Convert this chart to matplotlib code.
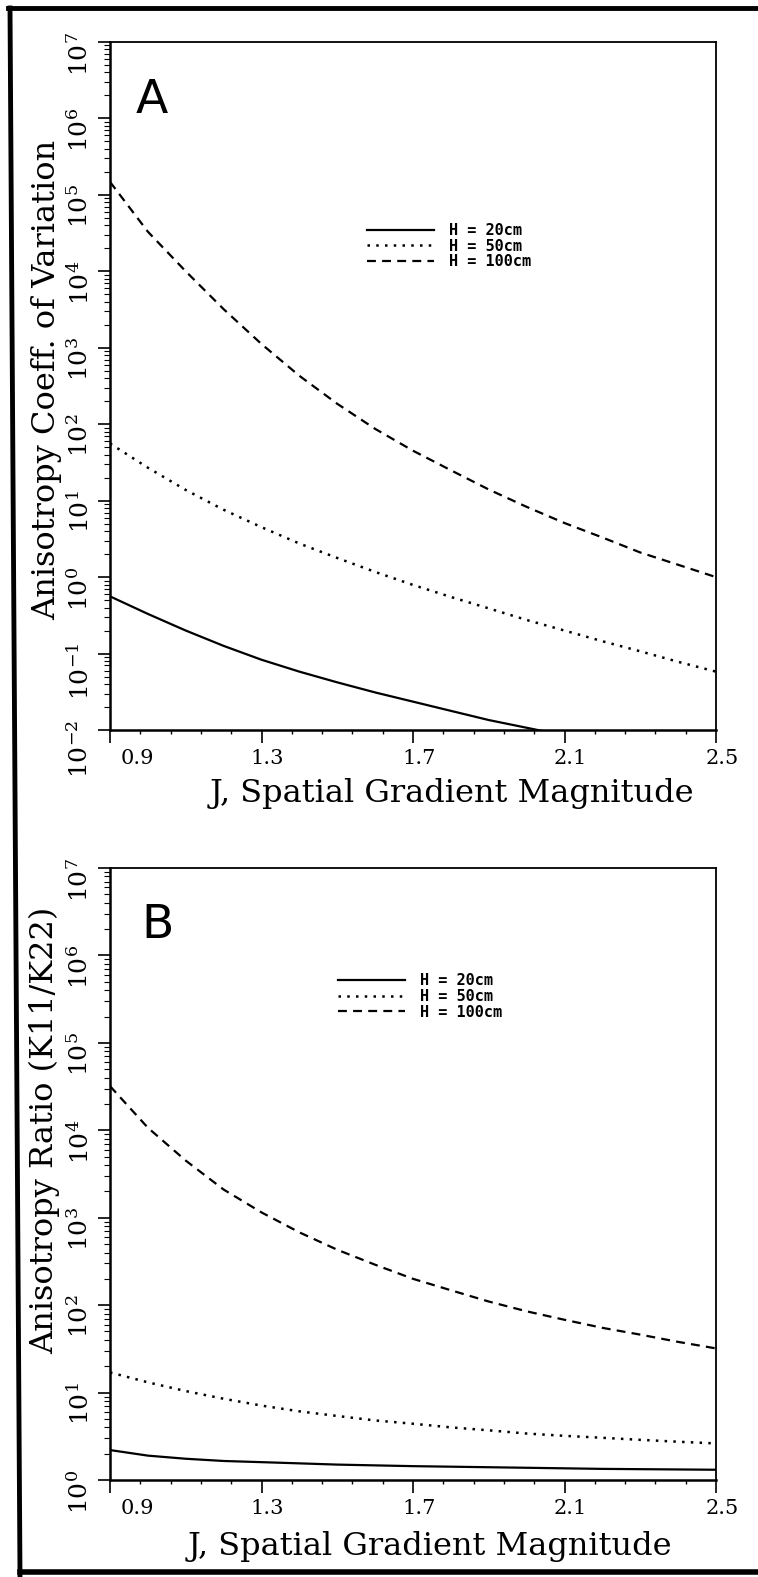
import numpy as np
import matplotlib
matplotlib.use("Agg")
import matplotlib.pyplot as plt
from matplotlib.lines import Line2D
from matplotlib.ticker import LogLocator, NullFormatter, AutoMinorLocator
from matplotlib.transforms import ScaledTranslation

plt.rcParams["font.family"] = "DejaVu Serif"
plt.rcParams["mathtext.fontset"] = "dejavuserif"

# J, spatial gradient magnitude
J = [0.9, 1.0, 1.1, 1.2, 1.3, 1.4, 1.5, 1.6, 1.7, 1.8, 1.9, 2.0, 2.1, 2.2, 2.3, 2.4, 2.5]

# panel A - anisotropy coeff. of variation
cv_h20 = [0.56, 0.33, 0.20, 0.126, 0.083, 0.058, 0.042, 0.031, 0.0235, 0.0178,
          0.0135, 0.0107, 0.0085, 0.0068, 0.0054, 0.0044, 0.0035]
cv_h50 = [56, 27, 13.8, 7.6, 4.5, 2.75, 1.78, 1.17, 0.79, 0.55,
          0.39, 0.275, 0.20, 0.145, 0.107, 0.078, 0.058]
cv_h100 = [1.48e5, 3.3e4, 1.0e4, 3.2e3, 1.12e3, 430, 185, 87, 45, 25,
           14, 8.3, 5.1, 3.3, 2.1, 1.45, 1.0]

# panel B - anisotropy ratio K11/K22
ratio_h20 = [2.2, 1.9, 1.75, 1.65, 1.6, 1.55, 1.5, 1.47, 1.44, 1.42,
             1.40, 1.38, 1.36, 1.34, 1.33, 1.32, 1.31]
ratio_h50 = [17.0, 13.1, 10.4, 8.5, 7.1, 6.1, 5.4, 4.8, 4.4, 4.0,
             3.7, 3.4, 3.2, 3.04, 2.88, 2.74, 2.62]
ratio_h100 = [3.2e4, 1.07e4, 4.5e3, 2.1e3, 1.15e3, 680, 430, 290, 200, 148,
              110, 85, 68, 55, 46, 38, 32]

series_labels = ["H = 20cm", "H = 50cm", "H = 100cm"]
x_ticks = [0.9, 1.3, 1.7, 2.1, 2.5]
x_ticklabels = ["0.9", "1.3", "1.7", "2.1", "2.5"]

W, H = 758, 1577
fig = plt.figure(figsize=(W / 100, H / 100), dpi=100)
axA = fig.add_axes([110 / W, 1 - 730 / H, 606 / W, 688 / H])
axB = fig.add_axes([110 / W, 1 - 1480 / H, 606 / W, 612 / H])


def draw_panel(ax, h20, h50, h100, ylim, decades, ylabel, ylab_pos, xlab_pos, leg_pos, letter, letter_pos):
    ax.plot(J, h20, color="k", lw=1.6, ls="-", label=series_labels[0])
    ax.plot(J, h50, color="k", lw=1.8, ls=(0, (1, 2.5)), label=series_labels[1])
    ax.plot(J, h100, color="k", lw=1.6, ls=(0, (4, 2.8)), label=series_labels[2])
    ax.set_yscale("log")
    ax.set_xlim(0.9, 2.5)
    ax.set_ylim(*ylim)
    ax.set_yticks([10.0 ** k for k in decades])
    ax.yaxis.set_minor_locator(LogLocator(base=10, subs=np.arange(2, 10), numticks=100))
    ax.yaxis.set_minor_formatter(NullFormatter())
    ax.set_xticks(x_ticks, labels=x_ticklabels)
    ax.xaxis.set_minor_locator(AutoMinorLocator(5))

    ax.tick_params(axis="y", which="major", direction="out", length=9, width=1.2,
                   pad=3, labelsize=18, labelrotation=90, right=False)
    ax.tick_params(axis="y", which="minor", direction="out", length=4.5, width=0.8, right=False)
    ax.tick_params(axis="x", which="major", direction="out", length=9, width=1.2,
                   pad=5, labelsize=15, top=False)
    ax.tick_params(axis="x", which="minor", direction="out", length=3, width=1.0, top=False)
    for s in ax.spines.values():
        s.set_linewidth(1.3)
    ax.spines["left"].set_linewidth(1.8)
    ax.spines["bottom"].set_linewidth(1.8)

    ax.set_ylabel(ylabel, fontsize=23)
    ax.yaxis.set_label_coords(*ylab_pos)
    ax.yaxis.label.set_va("center")
    ax.set_xlabel("J, Spatial Gradient Magnitude", fontsize=23)
    ax.xaxis.set_label_coords(*xlab_pos)
    ax.xaxis.label.set_va("center")

    ax.legend(loc="upper left", bbox_to_anchor=leg_pos, frameon=False,
              prop={"family": "DejaVu Sans Mono", "size": 11, "weight": "bold"},
              handlelength=4.4, handletextpad=1.0, labelspacing=0.05,
              borderpad=0, borderaxespad=0)

    ax.text(letter_pos[0], letter_pos[1], letter, transform=ax.transAxes,
            fontsize=34, family="DejaVu Sans", ha="center", va="baseline")

    # first x label sits off to the right of its tick
    for i, lab in enumerate(ax.get_xticklabels()):
        dx = 27 if i == 0 else 6
        lab.set_transform(lab.get_transform() + ScaledTranslation(dx / 100, 0, fig.dpi_scale_trans))


draw_panel(axA, cv_h20, cv_h50, cv_h100, (1e-2, 1e7), range(-2, 8),
           "Anisotropy Coeff. of Variation", (-0.104, 0.509), (0.564, -0.0916),
           (0.424, 0.737), "A", (0.069, 0.897))
draw_panel(axB, ratio_h20, ratio_h50, ratio_h100, (1, 1e7), range(0, 8),
           "Anisotropy Ratio (K11/K22)", (-0.108, 0.572), (0.528, -0.108),
           (0.376, 0.828), "B", (0.079, 0.886))

# scanned page frame
tf = fig.transFigure
fig.add_artist(Line2D([8 / W, 1], [1 - 8 / H, 1 - 8 / H], transform=tf, color="k", lw=3.5))
fig.add_artist(Line2D([10 / W, 20 / W], [1 - 8 / H, 0], transform=tf, color="k", lw=3.5))
fig.add_artist(Line2D([20 / W, 1], [1 - 1572 / H, 1 - 1572 / H], transform=tf, color="k", lw=4))

fig.savefig("out.png", dpi=100)
